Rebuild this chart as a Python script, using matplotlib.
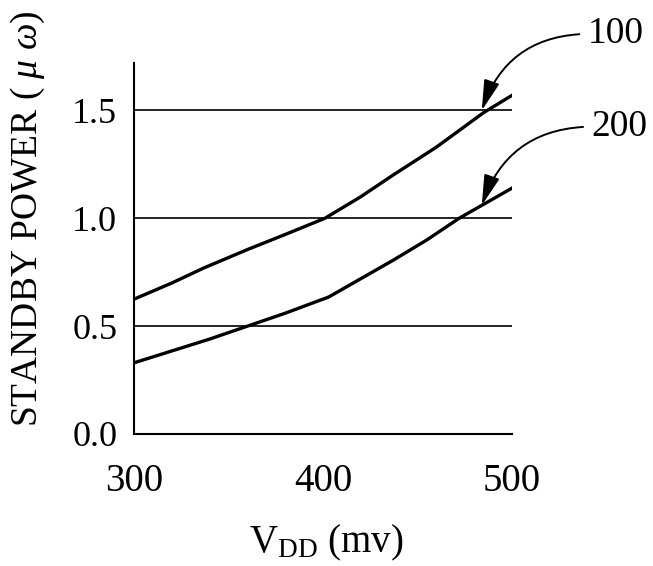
import numpy as np
import matplotlib
matplotlib.use("Agg")
import matplotlib.pyplot as plt

plt.rcParams['font.family'] = ['Liberation Serif', 'DejaVu Serif']
plt.rcParams['mathtext.fontset'] = 'custom'
plt.rcParams['mathtext.rm'] = 'Liberation Serif'
plt.rcParams['mathtext.it'] = 'Liberation Serif:italic'

# curve 100 (upper) and curve 200 (lower)
vdd_100 = [300, 320, 337, 360, 380, 401, 420, 437, 460, 485, 500]
pw_100 = [0.625, 0.70, 0.77, 0.855, 0.925, 1.0, 1.10, 1.20, 1.33, 1.49, 1.57]
vdd_200 = [300, 320, 340, 360, 380, 403, 420, 437, 455, 472, 500]
pw_200 = [0.33, 0.385, 0.44, 0.50, 0.56, 0.635, 0.72, 0.805, 0.90, 1.0, 1.14]

xticks = [300, 400, 500]
yticks = [0.0, 0.5, 1.0, 1.5]
ytick_labels = ["0.0", "0.5", "1.0", "1.5"]

fig = plt.figure(figsize=(6.53, 5.66), dpi=100)
ax = fig.add_axes([134/653, 132/566, 378/653, 371/566])

for y in yticks[1:]:
    ax.axhline(y, color='black', lw=1.2, zorder=1)

ax.plot(vdd_100, pw_100, color='black', lw=2.4, zorder=3)
ax.plot(vdd_200, pw_200, color='black', lw=2.4, zorder=3)

ax.set_xlim(300, 500)
ax.set_ylim(0, 1.72)
ax.set_xticks(xticks)
ax.set_yticks(yticks)
ax.set_yticklabels(ytick_labels)
ax.tick_params(length=0)
ax.tick_params(axis='y', pad=12, labelsize=26)
ax.tick_params(axis='x', pad=21, labelsize=28)
ax.spines['top'].set_visible(False)
ax.spines['right'].set_visible(False)
ax.spines['left'].set_linewidth(1.5)
ax.spines['bottom'].set_linewidth(1.5)

# reference numerals with curved leader arrows
arrow = dict(arrowstyle='-|>,head_length=0.85,head_width=0.22', color='black',
             lw=1.4, mutation_scale=22, connectionstyle='arc3,rad=0.35',
             relpos=(0, 0.5), shrinkA=4, shrinkB=0)
ax.annotate('100', xy=(484, 1.50), xytext=(540, 1.855), fontsize=27,
            ha='left', va='center', arrowprops=arrow, annotation_clip=False)
ax.annotate('200', xy=(484, 1.06), xytext=(542, 1.425), fontsize=27,
            ha='left', va='center', arrowprops=arrow, annotation_clip=False)

fig.text(28/653, 1 - 219/566, r'STANDBY POWER ( $\mathit{\mu}$ $\mathit{\omega}$)',
         rotation=90, ha='center', va='center', fontsize=27)
fig.text(326/653, 1 - 543/566, r'V$_{\mathrm{DD}}$ (mv)', ha='center', va='center', fontsize=28)

fig.savefig('out.png', dpi=100)
